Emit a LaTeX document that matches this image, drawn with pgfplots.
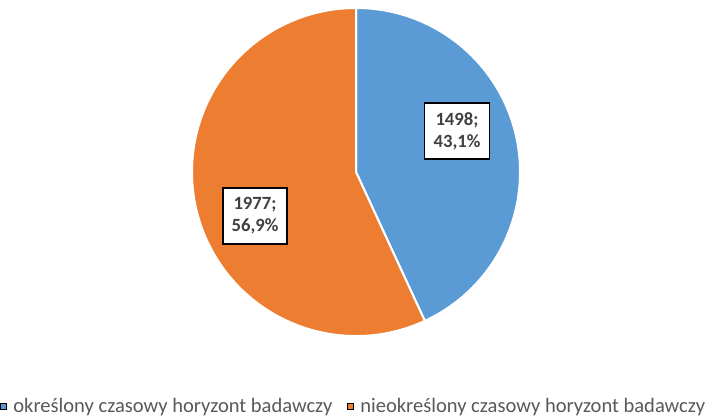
\documentclass[border=0pt]{standalone}
\usepackage{pgfplots}
\pgfplotsset{compat=1.18}
\usepackage{pgfplotstable}
\usepackage{fontspec}
\setmainfont{Carlito}

\definecolor{mycolor1}{RGB}{91,155,213}
\definecolor{mycolor2}{RGB}{237,125,49}
\definecolor{labelgray}{RGB}{64,64,64}
\definecolor{legendgray}{RGB}{89,89,89}

\pgfplotstableread{
value
1498
1977
}\piedata

\begin{document}
\begin{tikzpicture}
\pgfplotstablegetelem{0}{value}\of\piedata \let\va\pgfplotsretval
\pgfplotstablegetelem{1}{value}\of\piedata \let\vb\pgfplotsretval
\pgfmathsetmacro{\fracA}{\va/(\va+\vb)}
\pgfmathsetmacro{\endA}{90-360*\fracA}

\begin{axis}[%
width=531pt,
height=311.25pt,
scale only axis,
xmin=0, xmax=708,
ymin=0, ymax=415,
y dir=reverse,
hide axis,
clip=false,
legend style={at={(0.5,-0.005)}, anchor=south, legend columns=2, draw=none,
  inner sep=0pt, font=\fontsize{15.4}{17}\selectfont\color{legendgray},
  /tikz/every even column/.append style={column sep=9pt}},
legend image code/.code={\fill[#1] (0pt,-2.3pt) rectangle (4.6pt,2.3pt); \path (7.5pt,0pt);}
]
\path (axis cs:0,0) rectangle (axis cs:708,415);

\fill[mycolor1, draw=white, line width=1.5pt, line join=round]
  (axis cs:356,172) -- ++(90:123pt) arc[start angle=90, end angle=\endA, radius=123pt] -- cycle;
\fill[mycolor2, draw=white, line width=1.5pt, line join=round]
  (axis cs:356,172) -- ++(\endA:123pt) arc[start angle=\endA, end angle=-270, radius=123pt] -- cycle;

\node[draw=black, line width=1.1pt, fill=white, align=center, inner sep=3pt,
  font=\fontsize{14}{16.5}\selectfont\bfseries\color{labelgray}, minimum width=49pt, minimum height=42pt]
  at (axis cs:457,131) {1498;\\43,1\%};
\node[draw=black, line width=1.1pt, fill=white, align=center, inner sep=3pt,
  font=\fontsize{14}{16.5}\selectfont\bfseries\color{labelgray}, minimum width=48pt, minimum height=42pt]
  at (axis cs:255,216) {1977;\\56,9\%};

\addlegendimage{fill=mycolor1}
\addlegendentry{określony czasowy horyzont badawczy}
\addlegendimage{fill=mycolor2}
\addlegendentry{nieokreślony czasowy horyzont badawczy}
\end{axis}
\end{tikzpicture}
\end{document}
